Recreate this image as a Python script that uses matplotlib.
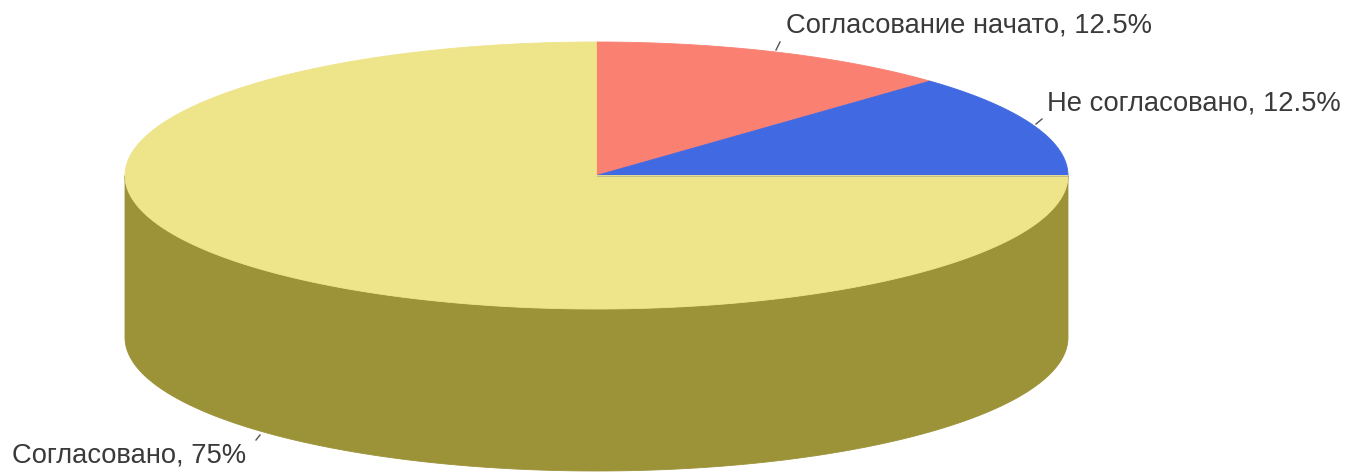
import numpy as np
import matplotlib
matplotlib.use("Agg")
import matplotlib.pyplot as plt
from matplotlib.patches import Polygon

# Data
labels = ["Согласование начато", "Не согласовано", "Согласовано"]
values = [12.5, 12.5, 75.0]
pct_labels = ["12.5%", "12.5%", "75%"]
top_colors = ["#FA8072", "#4169E1", "#EEE48A"]
side_colors = ["#B05A50", "#2E4A9E", "#9C9238"]

W, H = 1347, 475
fig = plt.figure(figsize=(W / 100, H / 100), dpi=100)
ax = fig.add_axes([0, 0, 1, 1])
ax.set_xlim(0, W)
ax.set_ylim(H, 0)
ax.axis("off")

cx, cy = 596.5, 175.5
rx, ry = 471.5, 133.5
depth = 162


def pt(a_deg, dy=0.0):
    a = np.radians(a_deg)
    return cx + rx * np.cos(a), cy - ry * np.sin(a) + dy


total = sum(values)
start = 90.0
spans = []
for v in values:
    end = start - 360.0 * v / total
    spans.append((start, end))
    start = end

# sides (front half: angles -180..0)
for (a0, a1), sc in zip(spans, side_colors):
    for shift in (0, -360, 360):
        lo, hi = a1 + shift, a0 + shift
        lo2, hi2 = max(lo, -180), min(hi, 0)
        if hi2 > lo2:
            ang = np.linspace(lo2, hi2, 200)
            top = [pt(a) for a in ang]
            bot = [pt(a, depth) for a in ang[::-1]]
            ax.add_patch(Polygon(top + bot, closed=True, facecolor=sc,
                                 edgecolor=sc, lw=0.6))

# top faces
for (a0, a1), tc in zip(spans, top_colors):
    ang = np.linspace(a0, a1, 300)
    poly = [(cx, cy)] + [pt(a) for a in ang]
    ax.add_patch(Polygon(poly, closed=True, facecolor=tc, edgecolor=tc, lw=0.6))

# subtle boundary line between blue and khaki
ax.plot([cx, cx + rx], [cy, cy], color="#8A8A8A", lw=0.6, alpha=0.5)

# labels with small leader ticks
txt_color = "#3A3A3A"
fs = 19.7
label_specs = [
    ((776, 50), (780, 42), (786, 25)),
    ((1036, 124), (1042, 119), (1047, 104)),
    ((256, 440), (260, 435), (12, 456)),
]
for lab, p, (t0, t1, tp) in zip(labels, pct_labels, label_specs):
    ax.plot([t0[0], t1[0]], [t0[1], t1[1]], color="#555555", lw=1.0)
    ax.text(tp[0], tp[1], f"{lab}, {p}", ha="left", va="center", fontsize=fs,
            color=txt_color, family="Liberation Sans")

fig.savefig("out.png", dpi=100)
